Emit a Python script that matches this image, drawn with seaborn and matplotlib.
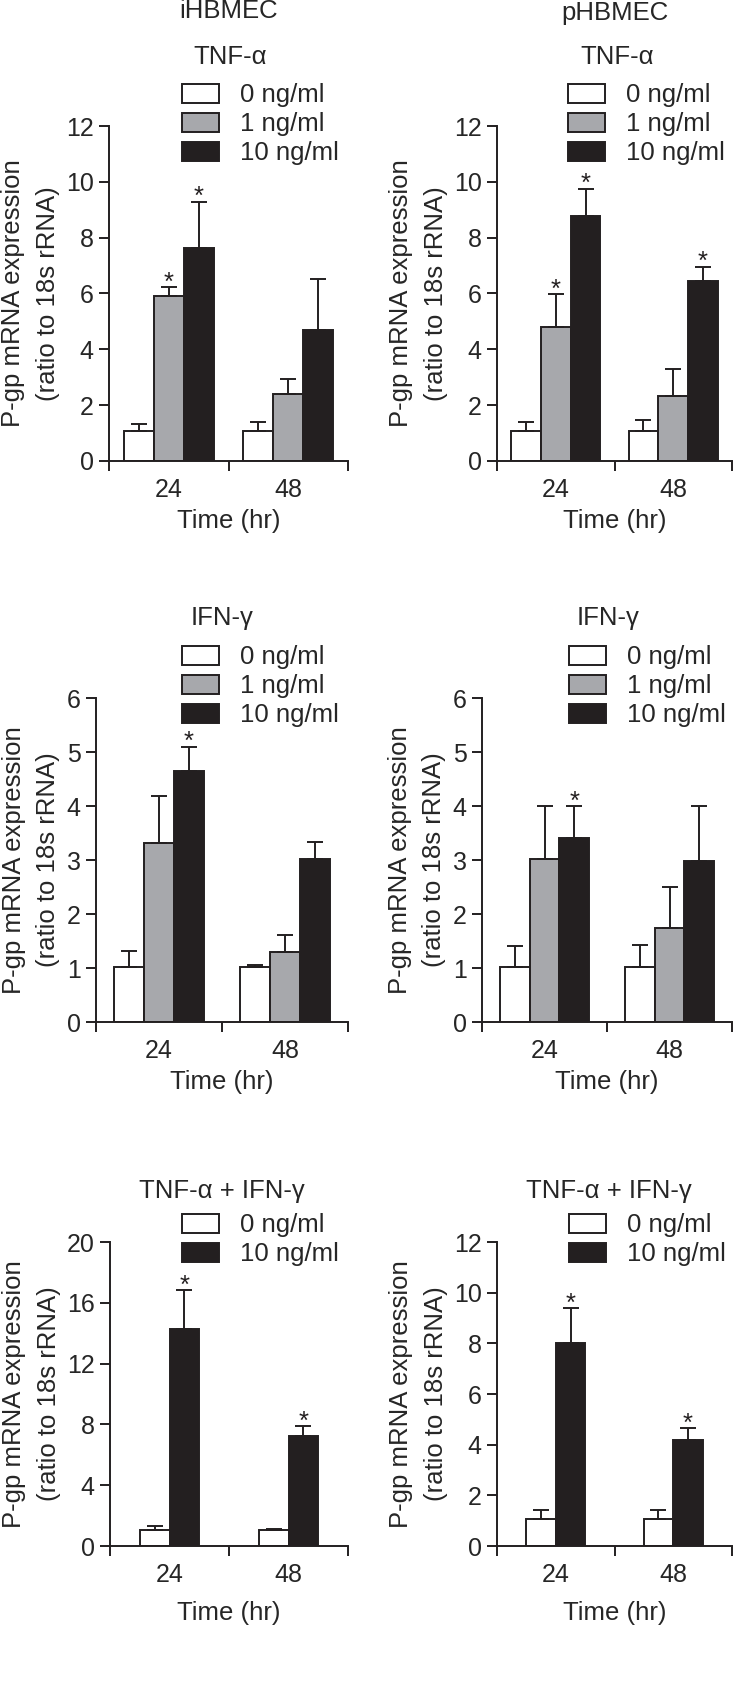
import numpy as np
import pandas as pd
import matplotlib
matplotlib.use("Agg")
import matplotlib.pyplot as plt
import seaborn as sns
from matplotlib.patches import Patch

# ---------------- data ----------------
times = ["24", "48"]
doses3 = ["0 ng/ml", "1 ng/ml", "10 ng/ml"]
doses2 = ["0 ng/ml", "10 ng/ml"]

# rows = dose level, columns = time (24 h, 48 h)
ih_tnf_mean = [[1.09, 1.09], [5.92, 2.40], [7.62, 4.69]]
ih_tnf_err = [[0.22, 0.31], [0.32, 0.53], [1.67, 1.84]]
ih_tnf_sig = [[0, 0], [1, 0], [1, 0]]

ph_tnf_mean = [[1.09, 1.07], [4.79, 2.32], [8.78, 6.46]]
ph_tnf_err = [[0.31, 0.40], [1.19, 0.99], [0.98, 0.50]]
ph_tnf_sig = [[0, 0], [1, 0], [1, 1]]

ih_ifn_mean = [[1.01, 1.01], [3.32, 1.30], [4.64, 3.02]]
ih_ifn_err = [[0.31, 0.04], [0.86, 0.31], [0.46, 0.31]]
ih_ifn_sig = [[0, 0], [0, 0], [1, 0]]

ph_ifn_mean = [[1.01, 1.01], [3.01, 1.74], [3.41, 2.98]]
ph_ifn_err = [[0.39, 0.42], [0.99, 0.76], [0.59, 1.02]]
ph_ifn_sig = [[0, 0], [0, 0], [1, 0]]

ih_combo_mean = [[1.03, 1.05], [14.26, 7.21]]
ih_combo_err = [[0.28, 0.04], [2.55, 0.69]]
ih_combo_sig = [[0, 0], [1, 1]]

ph_combo_mean = [[1.07, 1.06], [8.03, 4.17]]
ph_combo_err = [[0.37, 0.38], [1.35, 0.47]]
ph_combo_sig = [[0, 0], [1, 1]]

cell_titles = ["iHBMEC", "pHBMEC"]
stim_titles = ["TNF-α", "IFN-γ", "TNF-α + IFN-γ"]
ylabel = "P-gp mRNA expression\n(ratio to 18s rRNA)"
xlabel = "Time (hr)"

# ---------------- style ----------------
sns.set_theme(style="ticks")
plt.rcParams["font.family"] = ["Liberation Sans", "DejaVu Sans"]
EDGE = "#231f20"
COLORS3 = ["#ffffff", "#a7a8ac", "#231f20"]
COLORS2 = ["#ffffff", "#231f20"]
LW = 1.4
FS = 18.5
TFS = 18

W, H = 735, 1694
fig = plt.figure(figsize=(W / 100, H / 100), dpi=100)
fig.patch.set_facecolor("white")


def rect(l, t, r, b):
    return [l / W, 1 - b / H, (r - l) / W, (b - t) / H]


def panel(box, mean, err, sig, doses, colors, ymax, yticks, width, leg_xy, stim,
          stim_xy, xlpad):
    ax = fig.add_axes(rect(*box))
    rows = []
    for d, mrow in zip(doses, mean):
        for t, v in zip(times, mrow):
            rows.append({"time": t, "dose": d, "value": v})
    df = pd.DataFrame(rows)
    sns.barplot(data=df, x="time", y="value", hue="dose", order=times,
                hue_order=doses, palette=colors, saturation=1, width=width,
                errorbar=None, edgecolor=EDGE, linewidth=LW, legend=False, ax=ax)
    for cont, m, e, s in zip(ax.containers, mean, err, sig):
        xs = [b.get_x() + b.get_width() / 2 for b in cont]
        ax.errorbar(xs, m, yerr=[np.zeros(len(e)), e], fmt="none", ecolor=EDGE,
                    elinewidth=LW, capsize=5.7, capthick=LW)
        for x, mm, ee, ss in zip(xs, m, e, s):
            if ss:
                ax.annotate("*", (x, mm + ee), xytext=(0, -5.5), textcoords="offset points",
                            ha="center", va="bottom", fontsize=FS, color=EDGE)
    ax.set_xlim(-0.5, 1.5)
    ax.set_ylim(0, ymax)
    ax.set_yticks(yticks)
    ax.set_yticklabels([str(v) for v in yticks])
    ax.set_xticks([-0.5, 0.5, 1.5])
    ax.set_xticklabels(["", "", ""])
    ax.set_xticks([0, 1], minor=True)
    ax.set_xticklabels(times, minor=True)
    ax.tick_params(axis="x", which="minor", length=0, pad=12, labelsize=TFS)
    ax.tick_params(axis="both", which="major", length=7, width=LW, color=EDGE,
                   labelsize=TFS, pad=4, direction="out")
    for sp in ["top", "right"]:
        ax.spines[sp].set_visible(False)
    for sp in ["left", "bottom"]:
        ax.spines[sp].set_linewidth(LW)
        ax.spines[sp].set_color(EDGE)
    ax.set_ylabel(ylabel, fontsize=FS, linespacing=1.55, labelpad=4.5)
    ax.set_xlabel(xlabel, fontsize=FS, labelpad=xlpad)
    handles = [Patch(facecolor=c, edgecolor=EDGE, linewidth=LW, label=d)
               for c, d in zip(colors, doses)]
    ax.legend(handles=handles, loc="upper left",
              bbox_to_anchor=(leg_xy[0] / W, 1 - leg_xy[1] / H),
              bbox_transform=fig.transFigure, frameon=False, borderpad=0,
              borderaxespad=0, handlelength=1.45, handleheight=0.76,
              handletextpad=0.8, labelspacing=0.2, fontsize=FS)
    fig.text(stim_xy[0] / W, 1 - stim_xy[1] / H, stim, ha="center", va="center",
             fontsize=FS)
    return ax


panel((109, 126, 348, 461), ih_tnf_mean, ih_tnf_err, ih_tnf_sig, doses3, COLORS3,
      12, [0, 2, 4, 6, 8, 10, 12], 0.75, (182, 83), stim_titles[0], (230, 57), 5)
panel((497, 126, 732, 461), ph_tnf_mean, ph_tnf_err, ph_tnf_sig, doses3, COLORS3,
      12, [0, 2, 4, 6, 8, 10, 12], 0.76, (568, 83), stim_titles[0], (617, 57), 5)
panel((96, 698, 348, 1022), ih_ifn_mean, ih_ifn_err, ih_ifn_sig, doses3, COLORS3,
      6, [0, 1, 2, 3, 4, 5, 6], 0.715, (182, 645), stim_titles[1], (222, 618), 5)
panel((482, 698, 732, 1022), ph_ifn_mean, ph_ifn_err, ph_ifn_sig, doses3, COLORS3,
      6, [0, 1, 2, 3, 4, 5, 6], 0.715, (569, 645), stim_titles[1], (608, 618), 5)
panel((110, 1242, 348, 1546), ih_combo_mean, ih_combo_err, ih_combo_sig, doses2, COLORS2,
      20, [0, 4, 8, 12, 16, 20], 0.5, (182, 1213), stim_titles[2], (222, 1191), 10)
panel((497, 1242, 732, 1546), ph_combo_mean, ph_combo_err, ph_combo_sig, doses2, COLORS2,
      12, [0, 2, 4, 6, 8, 10, 12], 0.505, (569, 1213), stim_titles[2], (609, 1191), 10)

fig.text(229 / W, 1 - 11 / H, cell_titles[0], ha="center", va="center", fontsize=FS)
fig.text(615 / W, 1 - 13 / H, cell_titles[1], ha="center", va="center", fontsize=FS)

fig.savefig("out.png", dpi=100, facecolor="white")
